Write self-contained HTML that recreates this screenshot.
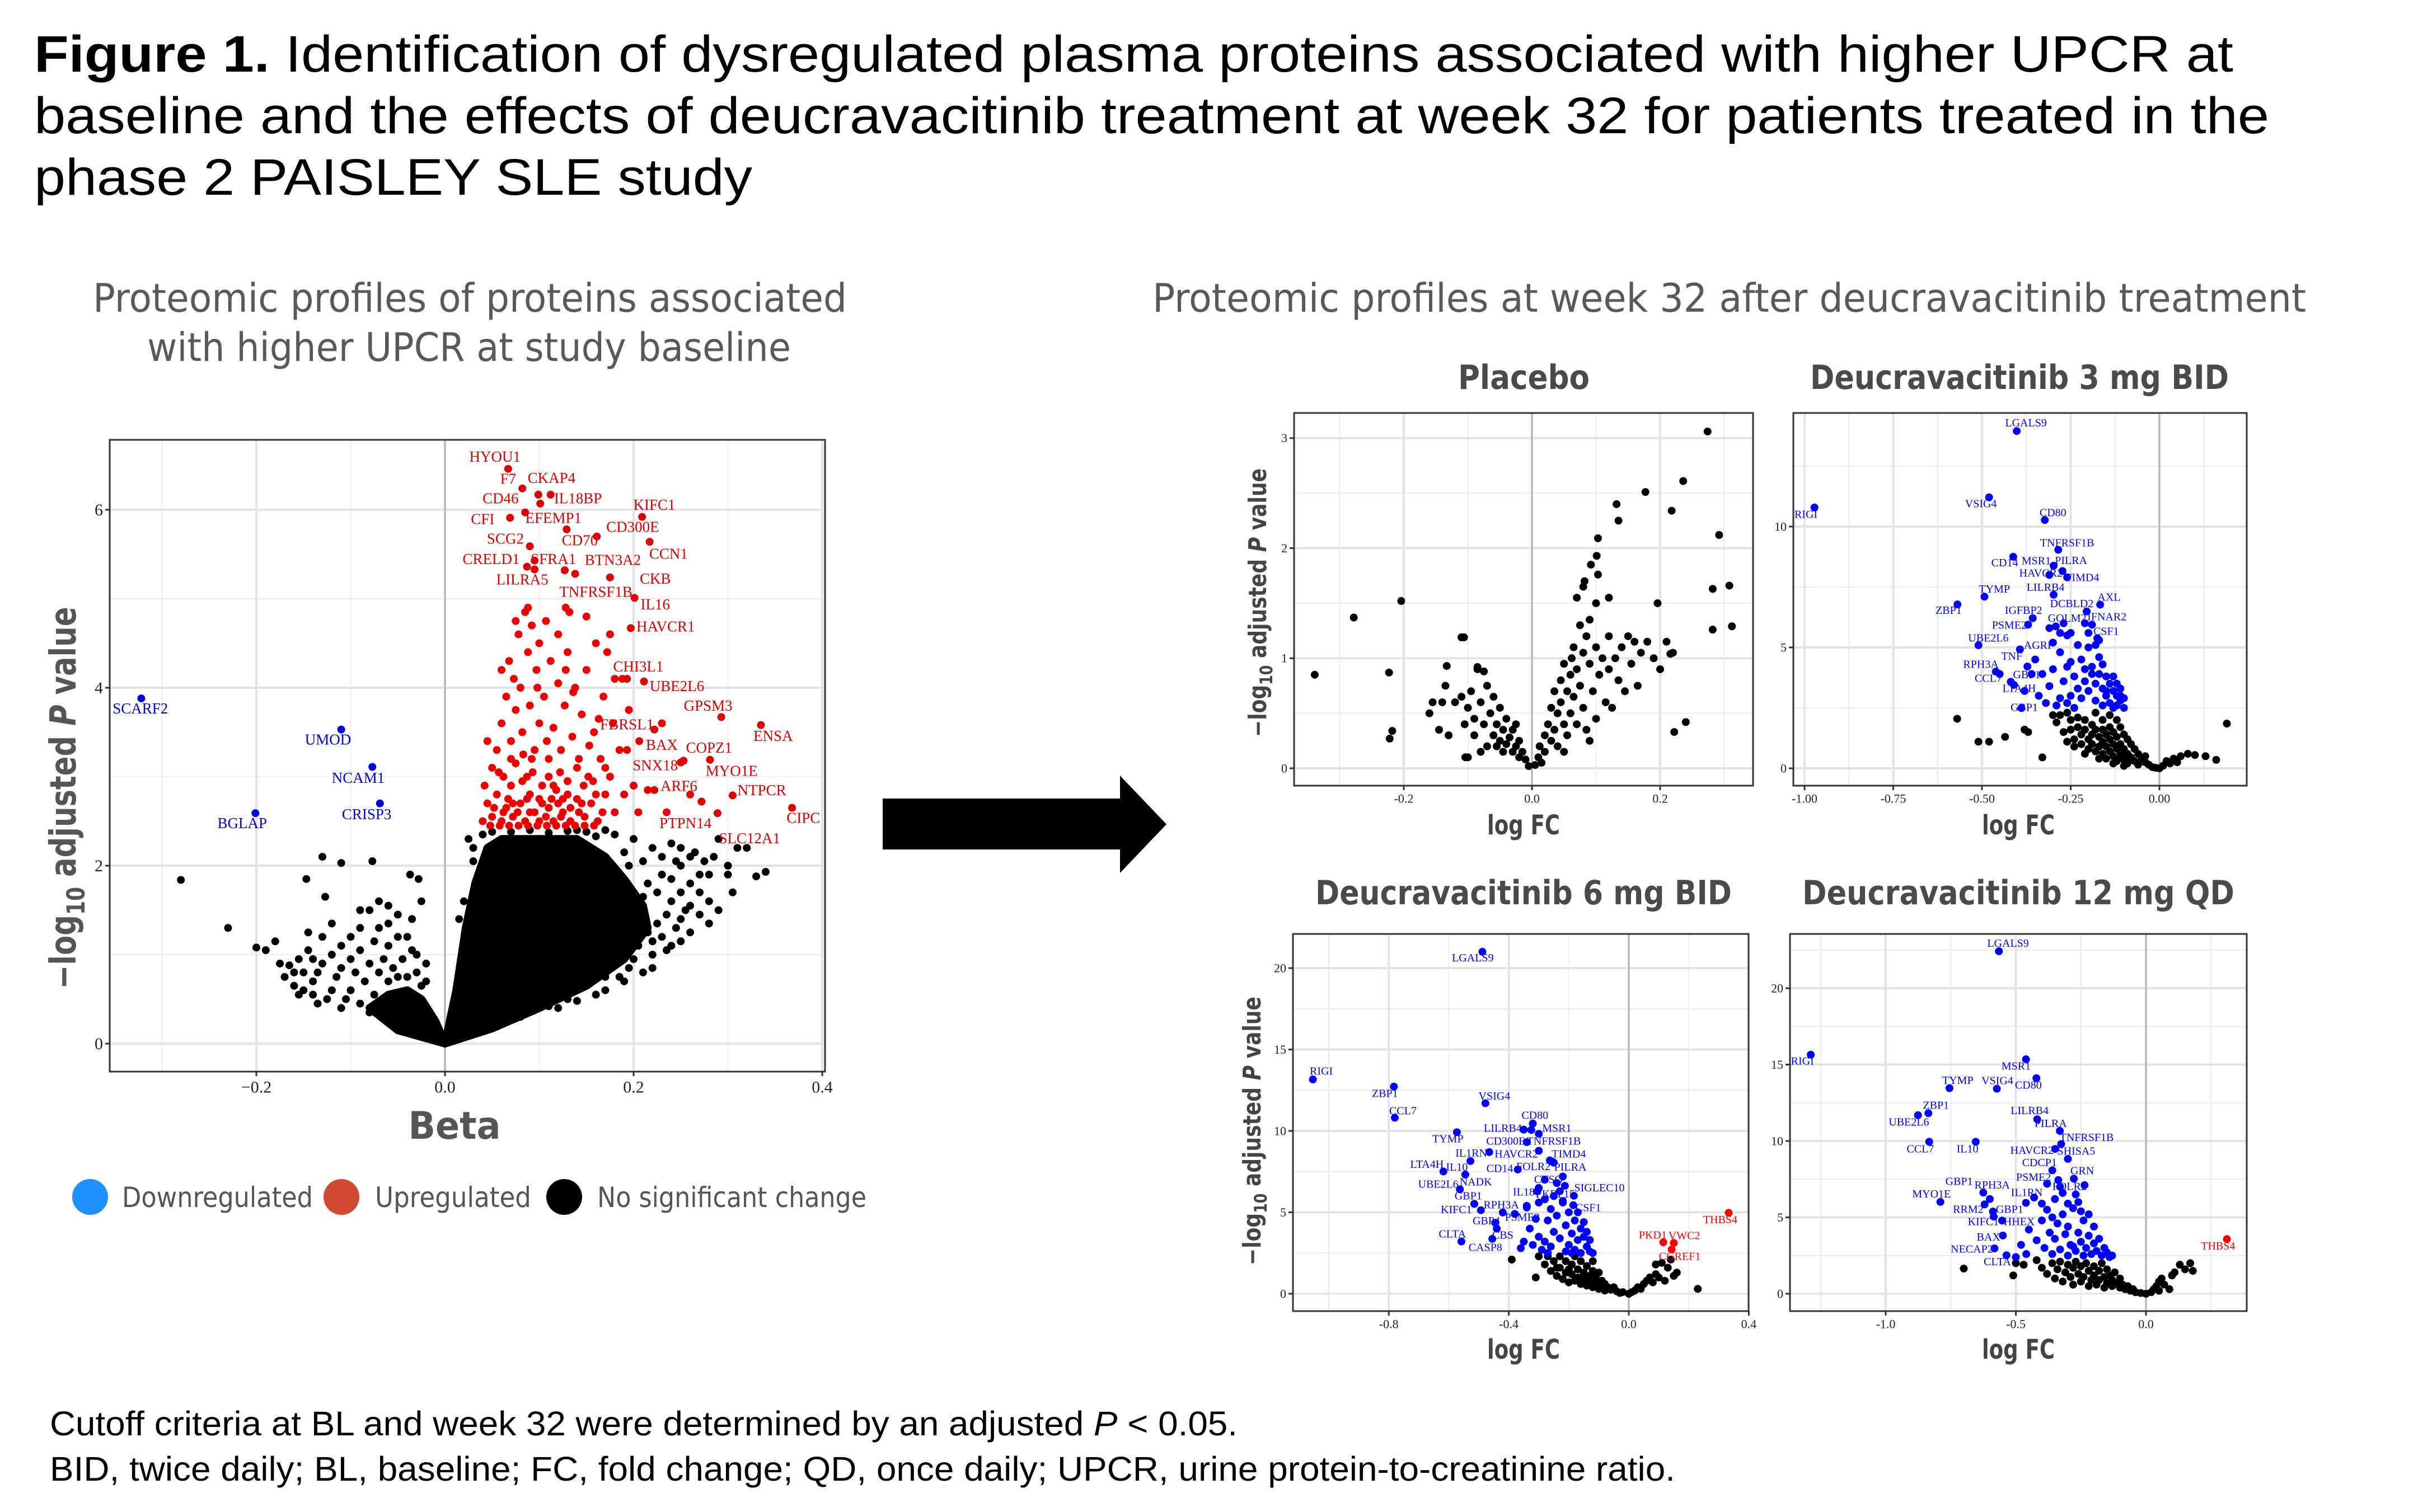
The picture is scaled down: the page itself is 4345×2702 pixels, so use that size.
<!DOCTYPE html>
<html><head><meta charset="utf-8"><title>Figure 1</title>
<style>
html,body{margin:0;padding:0;background:#fff;}
svg{display:block;}
</style></head>
<body>
<svg id="fig" xmlns="http://www.w3.org/2000/svg" width="4345" height="2702" viewBox="0 0 4345 2702">
<rect width="4345" height="2702" fill="#fff"/>
<g font-family="Liberation Sans, sans-serif" font-size="92" fill="#000">
<text x="61" y="128" textLength="3929" lengthAdjust="spacingAndGlyphs"><tspan font-weight="bold">Figure 1.</tspan> Identification of dysregulated plasma proteins associated with higher UPCR at</text>
<text x="61" y="238" textLength="3993" lengthAdjust="spacingAndGlyphs">baseline and the effects of deucravacitinib treatment at week 32 for patients treated in the</text>
<text x="61" y="348" textLength="1283" lengthAdjust="spacingAndGlyphs">phase 2 PAISLEY SLE study</text>
</g>
<g font-family="DejaVu Sans, sans-serif" font-size="70" fill="#595959">
<text x="166" y="557" textLength="1347" lengthAdjust="spacingAndGlyphs">Proteomic profiles of proteins associated</text>
<text x="263" y="645" textLength="1150" lengthAdjust="spacingAndGlyphs">with higher UPCR at study baseline</text>
<text x="2059" y="557" textLength="2061" lengthAdjust="spacingAndGlyphs">Proteomic profiles at week 32 after deucravacitinib treatment</text>
</g>
<g font-family="DejaVu Sans, sans-serif" font-size="60" font-weight="bold" fill="#4a4a4a">
<text x="2605" y="695" textLength="235" lengthAdjust="spacingAndGlyphs">Placebo</text>
<text x="3234" y="695" textLength="748" lengthAdjust="spacingAndGlyphs">Deucravacitinib 3 mg BID</text>
<text x="2350" y="1616" textLength="744" lengthAdjust="spacingAndGlyphs">Deucravacitinib 6 mg BID</text>
<text x="3220" y="1616" textLength="772" lengthAdjust="spacingAndGlyphs">Deucravacitinib 12 mg QD</text>
</g>
<g id="panels"></g>
<polygon points="1577,1427 2001,1427 2001,1386 2084,1473 2001,1560 2001,1518 1577,1518" fill="#000"/>
<g font-family="DejaVu Sans, sans-serif" font-size="50" fill="#555">
<circle cx="161" cy="2139" r="32" fill="#1e90ff"/>
<text x="218" y="2157" textLength="341" lengthAdjust="spacingAndGlyphs">Downregulated</text>
<circle cx="610" cy="2139" r="32" fill="#d1492e"/>
<text x="670" y="2157" textLength="279" lengthAdjust="spacingAndGlyphs">Upregulated</text>
<circle cx="1008" cy="2139" r="32" fill="#000"/>
<text x="1067" y="2157" textLength="481" lengthAdjust="spacingAndGlyphs">No significant change</text>
</g>
<g font-family="Liberation Sans, sans-serif" font-size="61" fill="#000">
<text x="89" y="2565" textLength="2122" lengthAdjust="spacingAndGlyphs">Cutoff criteria at BL and week 32 were determined by an adjusted <tspan font-style="italic">P</tspan> &lt; 0.05.</text>
<text x="89" y="2646" textLength="2904" lengthAdjust="spacingAndGlyphs">BID, twice daily; BL, baseline; FC, fold change; QD, once daily; UPCR, urine protein-to-creatinine ratio.</text>
</g>
</svg>
<script>
// ===== Baseline (UPCR) panel data: [beta, -log10 adj P] =====
const blUpLabeled = [
["HYOU1",0.067,6.46,0.053,6.58],["F7",0.082,6.24,0.067,6.33],["CKAP4",0.099,6.17,0.113,6.34],["CD46",0.085,5.97,0.059,6.11],
["IL18BP",0.101,6.07,0.141,6.11],["CFI",0.069,5.91,0.040,5.88],["EFEMP1",0.112,6.17,0.115,5.89],["KIFC1",0.209,5.92,0.222,6.04],
["CD300E",0.161,5.70,0.199,5.79],["CD70",0.129,5.78,0.143,5.64],["SCG2",0.090,5.59,0.064,5.66],["CCN1",0.217,5.64,0.237,5.49],
["CRELD1",0.087,5.36,0.049,5.43],["SFRA1",0.095,5.43,0.115,5.43],["BTN3A2",0.127,5.32,0.178,5.42],["CKB",0.175,5.24,0.223,5.21],
["LILRA5",0.095,5.33,0.082,5.20],["TNFRSF1B",0.138,5.28,0.160,5.06],["IL16",0.201,5.01,0.223,4.92],["HAVCR1",0.197,4.67,0.234,4.67],
["CHI3L1",0.193,4.10,0.205,4.22],["UBE2L6",0.211,4.07,0.246,4.00],["GPSM3",0.293,3.67,0.279,3.78],["ENSA",0.335,3.58,0.348,3.44],
["FBRSL1",0.222,3.53,0.193,3.57],["BAX",0.206,3.40,0.230,3.34],["COPZ1",0.281,3.19,0.280,3.31],["SNX18",0.250,3.16,0.223,3.11],
["MYO1E",0.253,3.18,0.304,3.05],["ARF6",0.222,2.85,0.248,2.88],["NTPCR",0.305,2.79,0.336,2.83],["CIPC",0.368,2.65,0.380,2.52],
["PTPN14",0.272,2.72,0.255,2.46],["SLC12A1",0.289,2.59,0.323,2.29]];
const blDownLabeled = [
["SCARF2",-0.322,3.88,-0.323,3.75],["UMOD",-0.110,3.53,-0.124,3.40],["NCAM1",-0.077,3.11,-0.092,2.97],
["CRISP3",-0.069,2.70,-0.083,2.56],["BGLAP",-0.201,2.59,-0.215,2.46]];
const blUpPoints = [[0.040,2.5],[0.045,2.7],[0.042,2.9],[0.05,2.55],[0.05,3.1],[0.055,2.8],[0.055,3.3],[0.06,2.5],[0.06,3.6],[0.062,3.0],[0.065,2.65],[0.065,3.9],[0.068,4.3],[0.07,2.9],[0.07,3.4],[0.072,2.55],[0.075,3.15],[0.075,3.75],[0.078,4.6],[0.08,2.7],[0.08,4.0],[0.082,3.5],[0.085,2.5],[0.085,4.85],[0.087,3.0],[0.088,4.4],[0.09,2.8],[0.09,3.8],[0.092,4.7],[0.095,2.6],[0.095,3.3],[0.097,4.2],[0.1,2.5],[0.1,3.6],[0.1,4.5],[0.103,2.9],[0.105,3.9],[0.107,4.75],[0.11,2.65],[0.11,3.2],[0.112,4.3],[0.115,2.5],[0.115,3.55],[0.118,2.85],[0.12,4.05],[0.12,4.6],[0.123,3.3],[0.125,2.6],[0.127,3.8],[0.13,2.95],[0.13,4.4],[0.133,2.5],[0.135,3.45],[0.138,4.0],[0.14,2.75],[0.142,3.2],[0.145,3.7],[0.148,2.55],[0.15,4.2],[0.152,3.0],[0.155,2.7],[0.158,3.5],[0.16,4.5],[0.162,2.5],[0.165,3.2],[0.168,3.9],[0.17,2.8],[0.172,4.4],[0.175,3.0],[0.178,3.6],[0.18,2.6],[0.185,3.3],[0.19,2.8],[0.2,2.9],[0.205,2.6],[0.215,2.85],[0.23,3.6],[0.235,2.6],[0.26,2.8],[0.048,2.45],[0.058,2.45],[0.068,2.45],[0.078,2.45],[0.088,2.45],[0.098,2.45],[0.108,2.45],[0.118,2.45],[0.128,2.45],[0.138,2.45],[0.148,2.45],[0.158,2.45],[0.045,3.4],[0.06,4.2],[0.073,4.1],[0.083,3.25],[0.093,3.05],[0.098,4.0],[0.108,3.4],[0.113,2.75],[0.122,3.05],[0.128,4.2],[0.136,3.95],[0.142,2.6],[0.153,3.35],[0.163,3.65],[0.175,4.6],[0.188,4.1],[0.195,3.75],[0.067,2.75],[0.077,2.6],[0.087,2.75],[0.103,2.7],[0.125,2.75],[0.133,2.65],[0.147,2.9],[0.157,2.95],[0.167,2.6],[0.082,2.95],[0.092,3.2],[0.11,3.0],[0.12,2.7],[0.14,3.1],[0.07,3.2],[0.057,3.05],[0.052,2.65],[0.062,2.6],[0.072,2.7],[0.09,2.6],[0.1,2.75],[0.107,2.55],[0.115,2.9],[0.123,2.55],[0.13,2.8],[0.145,2.7],[0.16,2.8],[0.17,3.1],[0.18,4.1],[0.193,3.3],[0.15,4.8],[0.128,4.9],[0.132,4.85],[0.088,4.9],[0.075,4.75]];
const blNsPoints = [[-0.28,1.84],[-0.23,1.30],[-0.2,1.08],[-0.19,1.05],[-0.18,1.15],[-0.175,0.9],[-0.165,0.88],[-0.16,0.8],[-0.155,0.95],[-0.15,0.6],[-0.145,1.05],[-0.14,0.7],[-0.135,0.8],[-0.13,2.1],[-0.147,1.85],[-0.11,2.03],[-0.077,2.05],[-0.037,1.9],[-0.028,1.85],[-0.127,1.65],[-0.12,1.35],[-0.08,1.5],[-0.09,1.3],[-0.07,1.6],[-0.05,1.45],[-0.025,1.6],[-0.13,1.2],[-0.11,1.1],[-0.1,1.2],[-0.06,1.35],[-0.04,1.2],[-0.03,1.0],[-0.02,0.9],[-0.14,0.55],[-0.12,0.6],[-0.16,0.65],[-0.155,0.55],
[-0.13,0.9],[-0.125,0.5],[-0.12,1.0],[-0.115,0.75],[-0.11,0.85],[-0.105,0.5],[-0.1,0.95],[-0.1,0.6],[-0.095,0.8],[-0.09,0.45],[-0.09,1.05],[-0.085,0.7],[-0.08,0.9],[-0.08,0.35],[-0.075,1.15],[-0.075,0.55],[-0.07,0.8],[-0.07,1.3],[-0.065,0.95],[-0.06,0.7],[-0.06,1.1],[-0.055,0.85],[-0.05,0.75],[-0.05,1.2],[-0.045,0.95],[-0.04,0.75],[-0.035,1.05],[-0.03,0.8],[-0.025,0.65],[-0.02,0.7],[-0.14,0.95],[-0.15,0.8],[-0.17,0.75],[-0.135,0.45],[-0.11,0.4],[-0.145,1.25],[-0.09,1.5],[-0.06,1.55],[-0.035,1.4],
[0.03,2.2],[0.02,1.6],[0.015,1.4],[0.025,2.3],[0.22,2.2],[0.23,1.9],[0.24,2.25],[0.25,2.0],[0.26,1.8],[0.27,1.7],[0.265,2.15],[0.28,1.6],[0.285,2.1],[0.29,1.5],[0.29,2.3],[0.3,1.9],[0.31,2.2],[0.32,2.2],[0.3,2.0],[0.305,1.7],[0.33,1.88],[0.34,1.93],[0.255,1.5],[0.245,1.3],[0.24,1.1],[0.25,1.4],[0.23,1.2],[0.27,1.45],[0.26,1.25],[0.28,1.35],[0.22,1.0],[0.21,0.8],[0.24,1.6],[0.2,0.95],[0.25,1.15],[0.19,0.7],[0.17,0.6],
[0.2,2.3],[0.21,2.05],[0.215,1.8],[0.225,1.7],[0.235,1.45],[0.24,1.85],[0.25,1.7],[0.26,1.55],[0.27,1.9],[0.275,2.05],[0.23,2.1],[0.245,2.05],[0.215,1.25],[0.21,1.45],[0.205,1.1],[0.195,0.85],[0.185,0.75],[0.16,0.55],[0.14,0.48],[0.12,0.4],[0.22,0.85],[0.235,1.05],[0.18,2.35],[0.19,2.15],[0.17,2.4],[0.2,1.7],[0.04,2.35],[0.03,2.05],[0.035,1.7],[0.05,2.38],[0.26,2.1],[0.28,1.9],[0.25,2.2],
[0.15,2.38],[0.16,2.33],[0.14,2.4],[0.07,2.38],[0.09,2.4],[0.11,2.37],[0.13,2.39],[0.195,2.0],[0.21,1.65],[0.225,1.35],[0.22,1.15],[0.2,1.2],[0.18,0.9],[0.17,0.75],[0.13,0.5],[0.11,0.42],[0.08,0.3],[0.06,0.22]];
const blNsDenseRight = [[0,0],[0.012,0.6],[0.022,1.3],[0.032,1.8],[0.045,2.2],[0.06,2.3],[0.14,2.3],[0.17,2.1],[0.19,1.85],[0.21,1.55],[0.215,1.3],[0.19,0.95],[0.15,0.65],[0.1,0.4],[0.05,0.17]];
const blNsDenseLeft = [[0,0],[-0.01,0.25],[-0.025,0.5],[-0.04,0.6],[-0.06,0.55],[-0.08,0.4],[-0.05,0.15]];
const blXTicks = [-0.2,0.0,0.2,0.4];
const blXTickLabels = ["\u22120.2","0.0","0.2","0.4"];
const blYTicks = [0,2,4,6];
const blYTickLabels = ["0","2","4","6"];

// ===== Placebo =====
const pbPoints = [[0.274,3.06],[0.236,2.61],[0.177,2.51],[0.132,2.40],[0.218,2.34],[0.135,2.25],[0.292,2.12],[0.103,2.09],[0.101,1.93],[0.092,1.85],[0.103,1.76],[0.082,1.70],[0.282,1.63],[0.308,1.66],[-0.204,1.52],[0.196,1.50],[-0.278,1.37],[0.282,1.26],[0.312,1.29],[-0.106,1.19],[-0.339,0.85],[-0.223,0.87],[-0.133,0.93],[-0.218,0.34],[-0.222,0.27],[0.240,0.42],[0.222,0.33],[-0.104,0.10],[0.216,1.04],
[-0.005,0.02],[-0.01,0.08],[-0.015,0.15],[-0.02,0.1],[-0.02,0.25],[-0.025,0.2],[-0.03,0.35],[-0.03,0.15],[-0.035,0.28],[-0.04,0.45],[-0.04,0.22],[-0.045,0.35],[-0.05,0.55],[-0.05,0.25],[-0.055,0.4],[-0.06,0.65],[-0.06,0.3],[-0.065,0.5],[-0.07,0.2],[-0.07,0.75],[-0.075,0.4],[-0.08,0.6],[-0.08,0.15],[-0.085,0.9],[-0.09,0.45],[-0.09,0.3],[-0.095,0.7],[-0.1,0.55],[-0.105,0.4],[-0.11,0.65],[-0.12,0.6],[-0.13,0.3],[-0.135,0.75],[-0.14,0.6],[-0.145,0.35],[-0.155,0.6],[-0.16,0.5],[-0.1,0.1],[-0.11,1.19],[-0.085,0.92],[-0.075,0.88],[-0.055,0.2],[-0.045,0.15],[-0.025,0.4],
[0.005,0.03],[0.01,0.1],[0.012,0.2],[0.015,0.05],[0.02,0.3],[0.02,0.15],[0.025,0.4],[0.03,0.25],[0.03,0.55],[0.035,0.35],[0.035,0.7],[0.04,0.5],[0.04,0.2],[0.045,0.8],[0.045,0.6],[0.05,0.4],[0.05,0.95],[0.055,0.7],[0.055,0.3],[0.06,0.85],[0.06,0.5],[0.065,1.1],[0.065,0.65],[0.07,0.9],[0.07,0.4],[0.075,1.3],[0.075,0.75],[0.08,1.05],[0.08,0.55],[0.085,1.2],[0.085,0.35],[0.09,0.95],[0.09,1.35],[0.095,0.7],[0.1,1.5],[0.1,1.1],[0.1,0.45],[0.105,0.85],[0.11,1.0],[0.115,0.6],[0.12,0.9],[0.12,1.2],[0.125,0.55],[0.13,1.0],[0.135,0.8],[0.14,1.1],[0.145,0.7],[0.15,1.2],[0.155,0.95],[0.16,1.15],[0.165,0.75],[0.17,1.05],[0.18,1.15],[0.19,1.0],[0.2,0.9],[0.21,1.15],[0.22,1.05],[0.08,1.65],[0.07,1.55],[0.12,1.55],[0.062,1.0],[0.09,0.25],[0.05,0.15]];
const pbXTicks = [-0.2,0.0,0.2];
const pbXTickLabels = ["-0.2","0.0","0.2"];
const pbYTicks = [0,1,2,3];
const pbYTickLabels = ["0","1","2","3"];

// ===== 3 mg BID =====
const d3Labeled = [["LGALS9",-0.402,13.95,-0.376,14.25],["RIGI",-0.972,10.79,-0.996,10.47],["VSIG4",-0.480,11.21,-0.503,10.91],["CD80",-0.323,10.27,-0.300,10.53],["TNFRSF1B",-0.285,9.04,-0.260,9.28],["CD14",-0.412,8.75,-0.436,8.46],["MSR1",-0.298,8.38,-0.347,8.54],["PILRA",-0.273,8.16,-0.249,8.56],["HAVCR2",-0.31,8.0,-0.334,8.04],["TIMD4",-0.26,7.9,-0.218,7.85],["LILRB4",-0.298,7.18,-0.321,7.44],["TYMP",-0.493,7.10,-0.465,7.38],["AXL",-0.167,6.77,-0.142,7.04],["ZBP1",-0.569,6.78,-0.594,6.49],["DCBLD2",-0.205,6.49,-0.247,6.77],["IGFBP2",-0.357,6.21,-0.383,6.49],["IFNAR2",-0.190,5.94,-0.148,6.23],["GOLM2",-0.292,5.87,-0.260,6.17],["PSME2",-0.370,5.94,-0.423,5.88],["CSF1",-0.175,5.38,-0.150,5.63],["UBE2L6",-0.510,5.09,-0.482,5.35],["AGRP",-0.393,4.92,-0.340,5.05],["TNF",-0.372,4.21,-0.416,4.60],["RPH3A",-0.461,4.00,-0.503,4.26],["GBP1",-0.419,3.58,-0.374,3.83],["CCL7",-0.45,3.9,-0.482,3.68],["LTA4H",-0.41,3.45,-0.395,3.27],["GBP1",-0.389,2.49,-0.381,2.48]];
const d3Down = [[-0.3,5.2],[-0.28,4.8],[-0.26,5.5],[-0.25,4.4],[-0.24,3.8],[-0.23,5.1],[-0.22,4.5],[-0.21,3.6],[-0.2,5.0],[-0.2,3.2],[-0.19,4.2],[-0.18,3.5],[-0.18,2.8],[-0.17,4.6],[-0.16,3.3],[-0.16,2.6],[-0.15,3.8],[-0.15,3.0],[-0.14,2.7],[-0.14,3.5],[-0.13,3.2],[-0.13,2.5],[-0.12,3.0],[-0.12,2.6],[-0.11,2.8],[-0.11,3.3],[-0.1,2.5],[-0.1,2.9],[-0.35,4.5],[-0.33,3.9],[-0.31,3.4],[-0.3,4.1],[-0.28,2.9],[-0.27,3.6],[-0.26,2.7],[-0.25,3.0],[-0.24,2.5],[-0.22,2.9],[-0.21,4.1],[-0.19,3.9],[-0.17,3.9],[-0.23,3.3],[-0.29,2.6],[-0.32,2.7],[-0.34,3.0],[-0.36,3.9],[-0.26,4.2],[-0.18,5.1],[-0.16,4.3],[-0.15,3.2],[-0.13,3.8],[-0.12,3.5],[-0.11,3.0],[-0.2,5.6],[-0.17,5.3],[-0.25,5.6],[-0.28,5.6],[-0.31,5.8],[-0.21,6.0],[-0.27,6.0],[-0.38,3.2]];
const d3Ns = [[-0.57,2.05],[-0.51,1.1],[-0.48,1.1],[-0.435,1.3],[-0.38,1.6],[-0.37,1.5],[-0.33,0.45],[-0.3,2.2],[-0.29,1.9],[-0.28,2.2],[-0.27,1.5],[-0.26,2.3],[-0.25,2.0],[-0.25,1.6],[-0.24,1.2],[-0.23,2.1],[-0.23,1.7],[-0.22,1.4],[-0.22,1.0],[-0.21,2.0],[-0.21,1.6],[-0.2,1.2],[-0.2,0.8],[-0.19,1.8],[-0.19,1.4],[-0.19,1.0],[-0.18,2.3],[-0.18,1.6],[-0.18,0.7],[-0.17,1.3],[-0.17,0.9],[-0.16,2.0],[-0.16,1.6],[-0.16,1.1],[-0.16,0.6],[-0.15,1.4],[-0.15,0.9],[-0.15,0.4],[-0.14,2.2],[-0.14,1.7],[-0.14,1.2],[-0.14,0.7],[-0.13,1.5],[-0.13,1.0],[-0.13,0.5],[-0.12,2.0],[-0.12,1.3],[-0.12,0.8],[-0.12,0.3],[-0.11,1.7],[-0.11,1.0],[-0.11,0.55],[-0.1,1.4],[-0.1,0.8],[-0.1,0.35],[-0.09,1.2],[-0.09,0.6],[-0.09,0.2],[-0.08,1.0],[-0.08,0.45],[-0.07,0.8],[-0.07,0.3],[-0.06,0.6],[-0.06,0.15],[-0.05,0.4],[-0.04,0.25],[-0.04,0.5],[-0.03,0.15],[-0.02,0.05],[-0.01,0.02],[0.0,0.0],[0.01,0.1],[0.02,0.3],[0.03,0.2],[0.04,0.4],[0.05,0.25],[0.06,0.5],[0.08,0.6],[0.1,0.55],[0.13,0.5],[0.16,0.35],[0.19,1.85],[-0.24,0.9],[-0.26,1.1],[-0.21,0.6],[-0.17,0.4],[-0.13,0.2],[-0.1,0.1]];
const d3XTicks = [-1.0,-0.75,-0.5,-0.25,0.0];
const d3XTickLabels = ["-1.00","-0.75","-0.50","-0.25","0.00"];
const d3YTicks = [0,5,10];
const d3YTickLabels = ["0","5","10"];

// ===== 6 mg BID =====
const d6Labeled = [["LGALS9",-0.488,21.0,-0.52,20.57],["RIGI",-1.053,13.16,-1.025,13.61],["ZBP1",-0.783,12.72,-0.813,12.23],["CCL7",-0.78,10.81,-0.753,11.18],["VSIG4",-0.478,11.70,-0.448,12.09],["CD80",-0.32,10.45,-0.313,10.89],["LILRB4",-0.35,10.08,-0.42,10.10],["MSR1",-0.325,10.06,-0.24,10.10],["TYMP",-0.573,9.92,-0.603,9.45],["CD300E",-0.34,9.31,-0.41,9.31],["TNFRSF1B",-0.30,9.82,-0.25,9.31],["IL1RN",-0.465,8.70,-0.525,8.58],["HAVCR2",-0.30,8.78,-0.375,8.52],["TIMD4",-0.263,8.19,-0.20,8.52],["LTA4H",-0.618,7.51,-0.673,7.89],["IL10",-0.528,8.15,-0.573,7.71],["CD14",-0.37,7.63,-0.43,7.63],["FOLR2",-0.255,8.11,-0.318,7.75],["PILRA",-0.25,8.05,-0.195,7.71],["UBE2L6",-0.563,6.41,-0.635,6.67],["NADK",-0.545,7.32,-0.51,6.80],["CTSO",-0.213,6.63,-0.268,6.96],["SIGLEC10",-0.183,6.02,-0.098,6.45],["IL18",-0.305,6.29,-0.35,6.19],["FKBP15",-0.22,5.7,-0.245,6.07],["GBP1",-0.515,5.52,-0.535,5.94],["RPH3A",-0.42,4.99,-0.425,5.40],["CSF1",-0.185,5.44,-0.135,5.23],["KIFC1",-0.493,5.13,-0.575,5.11],["PSME2",-0.34,5.3,-0.355,4.65],["GBP4",-0.445,4.36,-0.475,4.42],["CLTA",-0.558,3.21,-0.588,3.61],["CBS",-0.455,3.37,-0.42,3.55],["CASP8",-0.44,4.0,-0.478,2.78]];
const d6UpLabeled = [["THBS4",0.333,4.97,0.305,4.48],["PKD1",0.115,3.16,0.08,3.55],["VWC2",0.15,3.12,0.185,3.51],["CGREF1",0.143,2.72,0.17,2.23]];
const d6Down = [[-0.3,6.5],[-0.28,5.8],[-0.27,4.5],[-0.26,5.2],[-0.25,3.8],[-0.24,4.8],[-0.23,3.4],[-0.22,5.6],[-0.21,4.2],[-0.2,3.0],[-0.2,5.0],[-0.19,3.7],[-0.18,4.5],[-0.18,2.7],[-0.17,3.3],[-0.16,4.0],[-0.16,2.5],[-0.15,3.5],[-0.14,2.9],[-0.14,3.8],[-0.13,2.6],[-0.13,3.3],[-0.12,2.5],[-0.33,4.0],[-0.32,3.0],[-0.31,4.6],[-0.3,3.5],[-0.29,2.7],[-0.28,3.2],[-0.27,2.5],[-0.35,3.2],[-0.36,2.8],[-0.34,5.4],[-0.3,5.6],[-0.25,6.0],[-0.23,6.3],[-0.21,2.6],[-0.19,2.5],[-0.38,4.9],[-0.26,2.9],[-0.17,5.0],[-0.15,4.4],[-0.24,6.8],[-0.28,7.0],[-0.22,7.2]];
const d6Ns = [[-0.39,2.1],[-0.31,1.0],[-0.3,2.3],[-0.28,1.8],[-0.27,2.3],[-0.26,1.4],[-0.25,2.0],[-0.24,1.1],[-0.23,2.3],[-0.23,1.6],[-0.22,0.9],[-0.21,2.0],[-0.21,1.3],[-0.2,0.7],[-0.19,1.8],[-0.19,1.2],[-0.18,2.3],[-0.18,0.8],[-0.17,1.5],[-0.17,1.0],[-0.16,2.0],[-0.16,0.6],[-0.15,1.3],[-0.15,0.9],[-0.14,1.7],[-0.14,0.5],[-0.13,1.1],[-0.13,0.7],[-0.12,2.0],[-0.12,1.4],[-0.12,0.4],[-0.11,1.0],[-0.11,0.6],[-0.1,1.3],[-0.1,0.3],[-0.09,0.8],[-0.09,0.5],[-0.08,0.6],[-0.08,0.2],[-0.07,0.4],[-0.06,0.25],[-0.05,0.4],[-0.04,0.15],[-0.03,0.05],[-0.02,0.1],[0.0,0.0],[0.01,0.1],[0.02,0.2],[0.03,0.4],[0.04,0.3],[0.05,0.6],[0.06,0.8],[0.07,1.0],[0.08,0.7],[0.09,1.2],[0.1,1.0],[0.12,0.8],[0.15,1.1],[0.16,1.3],[0.14,2.1],[0.13,1.6],[0.23,0.3],[0.11,1.9],[0.09,1.8],[-0.2,1.5],[-0.24,1.6]];
const d6XTicks = [-0.8,-0.4,0.0,0.4];
const d6XTickLabels = ["-0.8","-0.4","0.0","0.4"];
const d6YTicks = [0,5,10,15,20];
const d6YTickLabels = ["0","5","10","15","20"];

// ===== 12 mg QD =====
const d12Labeled = [["LGALS9",-0.565,22.42,-0.53,22.88],["RIGI",-1.288,15.65,-1.32,15.16],["MSR1",-0.461,15.35,-0.499,14.83],["TYMP",-0.755,13.46,-0.723,13.90],["VSIG4",-0.573,13.42,-0.571,13.88],["CD80",-0.421,14.11,-0.452,13.59],["ZBP1",-0.836,11.82,-0.807,12.28],["UBE2L6",-0.876,11.69,-0.911,11.17],["LILRB4",-0.418,11.42,-0.447,11.92],["PILRA",-0.331,10.66,-0.366,11.08],["TNFRSF1B",-0.326,9.80,-0.228,10.16],["CCL7",-0.833,9.95,-0.867,9.42],["IL10",-0.654,9.95,-0.686,9.42],["HAVCR2",-0.349,9.48,-0.438,9.32],["SHISA5",-0.30,8.83,-0.268,9.27],["CDCP1",-0.36,8.08,-0.409,8.52],["GRN",-0.277,7.53,-0.245,7.99],["PSME2",-0.337,7.44,-0.432,7.57],["FOLR2",-0.236,7.11,-0.294,6.96],["GBP1",-0.625,6.62,-0.718,7.30],["RPH3A",-0.6,6.2,-0.591,7.05],["IL1RN",-0.461,5.95,-0.458,6.56],["MYO1E",-0.79,6.01,-0.824,6.46],["RRM2",-0.62,5.85,-0.683,5.47],["GBP1",-0.588,5.38,-0.524,5.47],["KIFC1",-0.585,5.05,-0.625,4.65],["HHEX",-0.553,4.79,-0.487,4.65],["BAX",-0.550,3.81,-0.605,3.64],["NECAP2",-0.582,2.97,-0.669,2.86],["CLTA",-0.536,2.52,-0.571,2.04]];
const d12UpLabeled = [["THBS4",0.311,3.58,0.277,3.07]];
const d12Down = [[-0.45,4.2],[-0.42,3.5],[-0.4,4.8],[-0.39,3.0],[-0.38,5.5],[-0.37,4.0],[-0.36,2.6],[-0.35,3.6],[-0.34,4.6],[-0.33,2.9],[-0.32,5.2],[-0.31,3.9],[-0.3,2.5],[-0.3,4.4],[-0.29,3.2],[-0.28,5.6],[-0.27,2.8],[-0.26,4.0],[-0.25,3.4],[-0.24,2.5],[-0.24,4.8],[-0.23,3.0],[-0.22,3.8],[-0.21,2.6],[-0.2,3.3],[-0.2,4.4],[-0.19,2.8],[-0.18,3.6],[-0.17,2.5],[-0.16,3.0],[-0.15,2.7],[-0.14,2.4],[-0.13,2.5],[-0.35,6.2],[-0.32,6.6],[-0.3,5.9],[-0.27,6.5],[-0.25,5.4],[-0.4,5.9],[-0.43,6.3],[-0.48,3.2],[-0.5,2.4],[-0.46,2.6],[-0.28,3.1],[-0.22,5.2],[-0.33,7.0],[-0.38,7.2],[-0.26,6.0],[-0.36,5.0]];
const d12Ns = [[-0.7,1.65],[-0.51,1.2],[-0.5,2.0],[-0.47,1.9],[-0.42,2.2],[-0.4,1.7],[-0.38,1.3],[-0.36,2.0],[-0.35,1.0],[-0.34,1.6],[-0.33,2.1],[-0.32,0.8],[-0.31,1.4],[-0.3,1.9],[-0.29,1.1],[-0.28,0.6],[-0.28,1.7],[-0.27,2.1],[-0.26,1.3],[-0.25,0.8],[-0.25,1.8],[-0.24,1.1],[-0.23,2.0],[-0.22,0.5],[-0.22,1.5],[-0.21,0.9],[-0.2,1.8],[-0.2,1.2],[-0.19,0.6],[-0.18,1.5],[-0.18,0.9],[-0.17,2.0],[-0.16,1.1],[-0.16,0.4],[-0.15,1.6],[-0.15,0.7],[-0.14,1.2],[-0.13,0.5],[-0.13,0.9],[-0.12,1.4],[-0.11,0.7],[-0.1,0.4],[-0.1,1.0],[-0.09,0.6],[-0.08,0.3],[-0.07,0.5],[-0.06,0.2],[-0.05,0.3],[-0.04,0.1],[-0.02,0.05],[0.0,0.0],[0.02,0.1],[0.03,0.3],[0.04,0.5],[0.05,0.8],[0.06,1.0],[0.05,0.2],[0.09,0.3],[0.1,1.2],[0.13,1.9],[0.15,1.6],[0.17,2.0],[0.18,1.5],[0.11,1.4],[0.07,0.6]];
const d12XTicks = [-1.0,-0.5,0.0];
const d12XTickLabels = ["-1.0","-0.5","0.0"];
const d12YTicks = [0,5,10,15,20];
const d12YTickLabels = ["0","5","10","15","20"];

const NS = "http://www.w3.org/2000/svg";
const root = document.getElementById("panels");
function mk(tag, attrs, parent) {
  const e = document.createElementNS(NS, tag);
  for (const k in attrs) e.setAttribute(k, attrs[k]);
  (parent || root).appendChild(e);
  return e;
}

function drawPanel(cfg) {
  const g = mk("g", {});
  
  
  const [L, T, R, B] = cfg.box;
  const sx = v => cfg.x0 + v * cfg.kx;
  const sy = v => cfg.y0 - v * cfg.ky;
  mk("rect", {x: L, y: T, width: R - L, height: B - T, fill: "#fff"}, g);
  const clipId = "clip-" + cfg.name;
  const cp = mk("clipPath", {id: clipId}, g);
  mk("rect", {x: L, y: T, width: R - L, height: B - T}, cp);
  const grid = mk("g", {stroke: "#ececec"}, g);
  cfg.xMinor.forEach(v => { const x = sx(v); if (x > L && x < R) mk("line", {x1: x, x2: x, y1: T, y2: B, "stroke-width": 2}, grid); });
  cfg.yMinor.forEach(v => { const y = sy(v); if (y > T && y < B) mk("line", {x1: L, x2: R, y1: y, y2: y, "stroke-width": 2}, grid); });
  cfg.xTicks.forEach(v => { const x = sx(v); if (x > L && x < R) mk("line", {x1: x, x2: x, y1: T, y2: B, "stroke-width": 4, stroke: "#e4e4e4"}, grid); });
  cfg.yTicks.forEach(v => { const y = sy(v); mk("line", {x1: L, x2: R, y1: y, y2: y, "stroke-width": 4, stroke: "#e4e4e4"}, grid); });
  mk("line", {x1: sx(0), x2: sx(0), y1: T, y2: B, stroke: "#b5b5b5", "stroke-width": 3}, g);
  const marks = mk("g", {"clip-path": "url(#" + clipId + ")"}, g);
  (cfg.dense || []).forEach(poly => {
    const p = mk("polygon", {points: poly.map(d => sx(d[0]) + "," + sy(d[1])).join(" "), fill: "#000", stroke: "#000", "stroke-width": cfg.r * 2, "stroke-linejoin": "round"}, marks);
    
    
  });
  cfg.series.forEach(s => {
    s.pts.forEach(d => {
      const c = mk("circle", {cx: sx(d[0]), cy: sy(d[1]), r: cfg.r, fill: s.color}, marks);
      
      
    });
  });
  cfg.labeled.forEach(s => {
    s.items.forEach(d => {
      const c = mk("circle", {cx: sx(d[1]), cy: sy(d[2]), r: cfg.r, fill: s.color}, marks);
      
      
      const t = mk("text", {x: sx(d[3]), y: sy(d[4]), "text-anchor": "middle", "dominant-baseline": "middle", "font-family": "Liberation Serif, serif", "font-size": cfg.lfs, fill: s.color}, marks);
      t.textContent = d[0];
      
      
    });
  });
  mk("rect", {x: L, y: T, width: R - L, height: B - T, fill: "none", stroke: "#333", "stroke-width": 3}, g);
  cfg.xTicks.forEach((v, i) => {
    const x = sx(v);
    mk("line", {x1: x, x2: x, y1: B, y2: B + 8, stroke: "#333", "stroke-width": 3}, g);
    const t = mk("text", {x: x, y: B + 12 + cfg.tfs * 0.85, "text-anchor": "middle", "font-family": "Liberation Serif, serif", "font-size": cfg.tfs, fill: "#222"}, g);
    t.textContent = cfg.xTickLabels[i];
    
    
  });
  cfg.yTicks.forEach((v, i) => {
    const y = sy(v);
    mk("line", {x1: L - 8, x2: L, y1: y, y2: y, stroke: "#333", "stroke-width": 3}, g);
    const t = mk("text", {x: L - 12, y: y + cfg.tfs * 0.33, "text-anchor": "end", "font-family": "Liberation Serif, serif", "font-size": cfg.tfs, fill: "#222"}, g);
    t.textContent = cfg.yTickLabels[i];
    
    
  });
}

drawPanel({name: "baseline-volcano", box: [196, 786, 1474, 1915], x0: 795, kx: 1685, y0: 1865, ky: 159, r: 7, lfs: 27, tfs: 30,
  xTicks: blXTicks, xTickLabels: blXTickLabels, yTicks: blYTicks, yTickLabels: blYTickLabels,
  xMinor: [-0.3, -0.1, 0.1, 0.3], yMinor: [1, 3, 5],
  dense: [blNsDenseRight, blNsDenseLeft],
  series: [{pts: blNsPoints, color: "#000", mark: "point-no-change"}, {pts: blUpPoints, color: "#ee0000", mark: "point-upregulated"}],
  labeled: [{items: blUpLabeled, color: "#e00000"}, {items: blDownLabeled, color: "#0000e0"}]});

drawPanel({name: "placebo-volcano", box: [2312, 738, 3132, 1404], x0: 2737, kx: 1145, y0: 1373, ky: 196.7, r: 7, lfs: 20, tfs: 22,
  xTicks: pbXTicks, xTickLabels: pbXTickLabels, yTicks: pbYTicks, yTickLabels: pbYTickLabels,
  xMinor: [-0.3, -0.1, 0.1, 0.3], yMinor: [0.5, 1.5, 2.5],
  series: [{pts: pbPoints, color: "#000", mark: "point-no-change"}], labeled: []});

drawPanel({name: "dose3-volcano", box: [3204, 738, 4014, 1404], x0: 3858, kx: 634, y0: 1373, ky: 43.2, r: 7, lfs: 20, tfs: 22,
  xTicks: d3XTicks, xTickLabels: d3XTickLabels, yTicks: d3YTicks, yTickLabels: d3YTickLabels,
  xMinor: [-0.875, -0.625, -0.375, -0.125, 0.125], yMinor: [2.5, 7.5, 12.5],
  series: [{pts: d3Ns, color: "#000", mark: "point-no-change"}, {pts: d3Down, color: "#0000ff", mark: "point-downregulated"}],
  labeled: [{items: d3Labeled, color: "#0000ff"}]});

drawPanel({name: "dose6-volcano", box: [2310, 1669, 3124, 2343], x0: 2910, kx: 536, y0: 2312, ky: 29.1, r: 7, lfs: 20, tfs: 22,
  xTicks: d6XTicks, xTickLabels: d6XTickLabels, yTicks: d6YTicks, yTickLabels: d6YTickLabels,
  xMinor: [-1.0, -0.6, -0.2, 0.2], yMinor: [2.5, 7.5, 12.5, 17.5],
  series: [{pts: d6Ns, color: "#000", mark: "point-no-change"}, {pts: d6Down, color: "#0000ff", mark: "point-downregulated"}],
  labeled: [{items: d6Labeled, color: "#0000ff"}, {items: d6UpLabeled, color: "#ff0000"}]});

drawPanel({name: "dose12-volcano", box: [3198, 1669, 4014, 2343], x0: 3834, kx: 465, y0: 2312, ky: 27.3, r: 7, lfs: 20, tfs: 22,
  xTicks: d12XTicks, xTickLabels: d12XTickLabels, yTicks: d12YTicks, yTickLabels: d12YTickLabels,
  xMinor: [-1.25, -0.75, -0.25, 0.25], yMinor: [2.5, 7.5, 12.5, 17.5, 22.5],
  series: [{pts: d12Ns, color: "#000", mark: "point-no-change"}, {pts: d12Down, color: "#0000ff", mark: "point-downregulated"}],
  labeled: [{items: d12Labeled, color: "#0000ff"}, {items: d12UpLabeled, color: "#ff0000"}]});

// axis titles
function ylab(name, cx, cy, fs, len, col) {
  const t = mk("text", {transform: "translate(" + cx + "," + cy + ") rotate(-90)", "text-anchor": "middle", "font-family": "DejaVu Sans, sans-serif", "font-weight": "bold", "font-size": fs, fill: col, textLength: len, lengthAdjust: "spacingAndGlyphs"});
  
  
  t.innerHTML = '\u2212log<tspan font-size="' + (fs * 0.7) + '" dy="' + (fs * 0.25) + '">10</tspan><tspan dy="' + (-fs * 0.25) + '"> adjusted </tspan><tspan font-style="italic">P</tspan> value';
}
function xlab(name, cx, y, fs, text, len, col) {
  const t = mk("text", {x: cx, y: y, "text-anchor": "middle", "font-family": "DejaVu Sans, sans-serif", "font-weight": "bold", "font-size": fs, fill: col, textLength: len, lengthAdjust: "spacingAndGlyphs"});
  t.textContent = text;
  
  
}
ylab("baseline-y-axis-title", 135, 1426, 64, 683, "#555");
xlab("baseline-x-axis-title", 812, 2035, 68, "Beta", 165, "#555");
ylab("top-y-axis-title", 2262, 1077, 44, 480, "#444");
ylab("bottom-y-axis-title", 2252, 2021, 44, 480, "#444");
xlab("placebo-x-axis-title", 2722, 1491, 48, "log FC", 130, "#444");
xlab("dose3-x-axis-title", 3606, 1491, 48, "log FC", 130, "#444");
xlab("dose6-x-axis-title", 2722, 2428, 48, "log FC", 130, "#444");
xlab("dose12-x-axis-title", 3606, 2428, 48, "log FC", 130, "#444");
</script>
</body></html>
